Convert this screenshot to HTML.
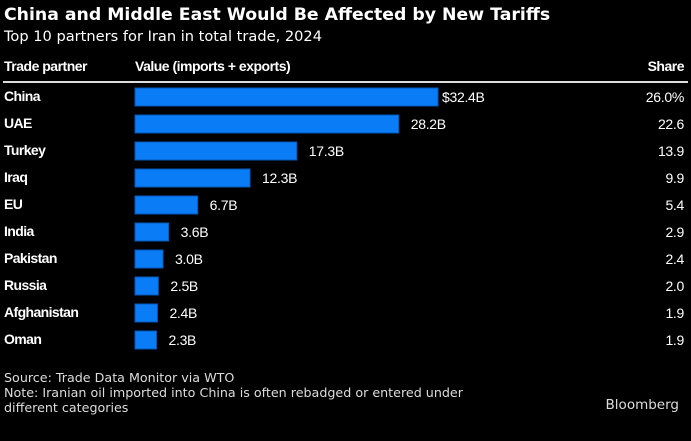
<!DOCTYPE html>
<html><head><meta charset="utf-8">
<style>
body{margin:0;background:#000;width:691px;height:441px;overflow:hidden;font-family:"Liberation Sans",sans-serif;color:#fff;position:relative}
.t{position:absolute;white-space:nowrap}
</style></head><body>
<div class="t" style="left:4px;top:5px;font-family:'DejaVu Sans',sans-serif;font-weight:bold;font-size:17.3px">China and Middle East Would Be Affected by New Tariffs</div>
<div class="t" style="left:4px;top:28px;font-family:'DejaVu Sans',sans-serif;font-size:14.6px">Top 10 partners for Iran in total trade, 2024</div>
<div class="t" style="left:4px;top:58px;font-weight:bold;font-size:14px;letter-spacing:-0.5px">Trade partner</div>
<div class="t" style="left:135px;top:58px;font-weight:bold;font-size:14px;letter-spacing:-0.5px">Value (imports + exports)</div>
<div class="t" style="right:7px;top:58px;font-weight:bold;font-size:14px;letter-spacing:-0.5px">Share</div>
<div style="position:absolute;left:3px;top:81px;width:685px;height:2px;background:#ddd"></div>
<svg id="c" width="691" height="441" style="position:absolute;left:0;top:0"></svg>
<div class="t" style="left:4px;top:370px;font-family:'DejaVu Sans',sans-serif;font-size:12.7px;line-height:15px;color:#ddd">Source: Trade Data Monitor via WTO<br>Note: Iranian oil imported into China is often rebadged or entered under<br>different categories</div>
<div class="t" style="right:12px;top:397px;font-family:'DejaVu Sans',sans-serif;font-size:13.5px;color:#ddd">Bloomberg</div>
<script>
const partners=["China","UAE","Turkey","Iraq","EU","India","Pakistan","Russia","Afghanistan","Oman"];
const values=[32.4,28.2,17.3,12.3,6.7,3.6,3.0,2.5,2.4,2.3];
const valueLabels=["$32.4B","28.2B","17.3B","12.3B","6.7B","3.6B","3.0B","2.5B","2.4B","2.3B"];
const shares=["26.0%","22.6","13.9","9.9","5.4","2.9","2.4","2.0","1.9","1.9"];
const svg=document.getElementById('c');const NS='http://www.w3.org/2000/svg';
const x=v=>135+v*(303/32.4);
const y=i=>97+i*27;
function mk(tag,attrs,txt){const e=document.createElementNS(NS,tag);for(const k in attrs)e.setAttribute(k,attrs[k]);if(txt!==undefined)e.textContent=txt;svg.appendChild(e);return e;}
partners.forEach((p,i)=>{
 const l=mk('text',{x:4,y:y(i)+4,fill:'#fff','font-size':14,'font-weight':'bold','letter-spacing':'-0.6','font-family':'Liberation Sans, sans-serif'},p);
 
 
 const b=mk('rect',{x:135,y:y(i)-9,width:x(values[i])-135,height:18,fill:'#0a7cf5',stroke:'#0658b8','stroke-width':1});
 
 
 const off=valueLabels[i].startsWith('$')?4:12;
 const v=mk('text',{x:x(values[i])+off,y:y(i)+5,fill:'#fff','font-size':14,'letter-spacing':'-0.3','font-family':'Liberation Sans, sans-serif'},valueLabels[i]);
 
 
 const s=mk('text',{x:684,y:y(i)+5,fill:'#fff','font-size':14,'letter-spacing':'-0.3','text-anchor':'end','font-family':'Liberation Sans, sans-serif'},shares[i]);
 
 
});
</script>
</body></html>
